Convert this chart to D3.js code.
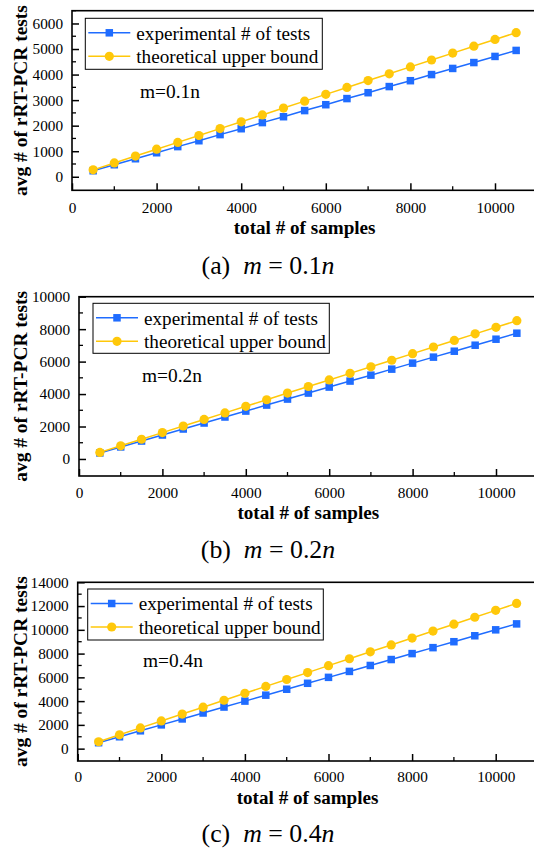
<!DOCTYPE html>
<html>
<head>
<meta charset="utf-8">
<script src="https://cdn.jsdelivr.net/npm/d3@7"></script>
<style>
  body { margin: 0; background: #fff; }
  svg { display: block; }
  text { font-family: "Liberation Serif", "Times New Roman", Times, serif; fill: #000; }
</style>
</head>
<body>
<script>
// total # of samples (n)
const samples = [500, 1000, 1500, 2000, 2500, 3000, 3500, 4000, 4500, 5000, 5500,
  6000, 6500, 7000, 7500, 8000, 8500, 9000, 9500, 10000, 10500];

// m = 0.1n
const expA = [235, 470, 705, 940, 1180, 1410, 1650, 1880, 2120, 2350, 2590,
  2820, 3060, 3290, 3530, 3760, 4000, 4240, 4470, 4710, 4945];
const theoA = [270, 540, 810, 1080, 1345, 1615, 1885, 2150, 2420, 2690, 2960,
  3225, 3495, 3765, 4030, 4300, 4570, 4840, 5110, 5375, 5640];

// m = 0.2n
const expB = [370, 740, 1105, 1475, 1845, 2215, 2585, 2950, 3320, 3690, 4060,
  4430, 4800, 5165, 5535, 5905, 6275, 6640, 7010, 7380, 7750];
const theoB = [405, 810, 1215, 1625, 2030, 2435, 2840, 3245, 3650, 4060, 4465,
  4870, 5275, 5680, 6085, 6490, 6900, 7305, 7710, 8115, 8520];

// m = 0.4n
const expC = [500, 1000, 1500, 2000, 2500, 3000, 3500, 4000, 4500, 5000, 5500,
  6000, 6500, 7000, 7500, 8000, 8500, 9000, 9500, 10000, 10500];
const theoC = [580, 1165, 1745, 2330, 2910, 3490, 4075, 4655, 5240, 5820, 6400,
  6985, 7565, 8150, 8730, 9310, 9895, 10475, 11060, 11640, 12225];

const xTicks = [0, 2000, 4000, 6000, 8000, 10000];
const seriesNames = ['experimental # of tests', 'theoretical upper bound'];
const blue = '#1f6cff';
const yellow = '#ffc80a';
const serif = '"Liberation Serif", "Times New Roman", Times, serif';

const panels = [
  { tag: 'a', ratio: '0.1', exp: expA, theo: theoA, yMin: -530, yMax: 6500, yMajor: 1000, yMinor: 500,
    left: 72, top: 10.7, bottom: 190.3, xMax: 11000, right: 537.3,
    legend: { x: 85.3, y: 18.3, w: 237, h: 51 }, note: { x: 140, y: 91 },
    xLabelY: 208, xTitleY: 227, captionY: 265 },
  { tag: 'b', ratio: '0.2', exp: expB, theo: theoB, yMin: -1050, yMax: 10000, yMajor: 2000, yMinor: 1000,
    left: 79, top: 296.7, bottom: 476, xMax: 11000, right: 537.7,
    legend: { x: 93, y: 303.3, w: 236.3, h: 50 }, note: { x: 142, y: 375 },
    xLabelY: 493, xTitleY: 512, captionY: 549 },
  { tag: 'c', ratio: '0.4', exp: expC, theo: theoC, yMin: -1040, yMax: 14000, yMajor: 2000, yMinor: 1000,
    left: 77.7, top: 582.3, bottom: 761, xMax: 11000, right: 537.5,
    legend: { x: 87.7, y: 589, w: 235.6, h: 51 }, note: { x: 143, y: 660 },
    xLabelY: 777, xTitleY: 797, captionY: 833 }
];

const svg = d3.select('body').append('svg')
  .attr('width', 534)
  .attr('height', 848);

// pick a font size so that the text comes out at the wanted width
function fitSize(text, weight, width) {
  const probe = svg.append('text')
    .attr('font-family', serif).attr('font-weight', weight)
    .attr('font-size', 20).text(text);
  const w = probe.node().getComputedTextLength();
  probe.remove();
  return 20 * width / w;
}

const sizes = {
  tick: fitSize('4000', 'normal', 30.5),
  legend: fitSize(seriesNames[0], 'normal', 174),
  xTitle: fitSize('total # of samples', 'bold', 142),
  yTitle: fitSize('avg # of rRT-PCR tests', 'bold', 191),
  note: fitSize('m=0.1n', 'normal', 60),
  caption: fitSize('(a)  m = 0.1n', 'normal', 128)
};

function drawSquare(g, x, y, s, color) {
  g.append('rect')
    .attr('x', x - s / 2).attr('y', y - s / 2)
    .attr('width', s).attr('height', s)
    .attr('fill', color);
}

function drawPanel(p) {
  const xScale = d3.scaleLinear().domain([0, p.xMax]).range([p.left, p.right]);
  const yScale = d3.scaleLinear().domain([p.yMin, p.yMax]).range([p.bottom, p.top]);
  const g = svg.append('g');

  // frame
  g.append('rect')
    .attr('x', p.left).attr('y', p.top)
    .attr('width', p.right - p.left).attr('height', p.bottom - p.top)
    .attr('fill', 'none').attr('stroke', '#000').attr('stroke-width', 1.6);

  // minor ticks (inward)
  const yMinorTicks = d3.range(0, p.yMax + 1, p.yMinor).filter((v) => v % p.yMajor !== 0);
  g.selectAll('.ym').data(yMinorTicks).enter().append('line')
    .attr('x1', p.left).attr('x2', p.left + 4)
    .attr('y1', (d) => yScale(d)).attr('y2', (d) => yScale(d))
    .attr('stroke', '#000').attr('stroke-width', 1.3);
  const xMinorTicks = d3.range(1000, p.xMax, 2000);
  g.selectAll('.xm').data(xMinorTicks).enter().append('line')
    .attr('x1', (d) => xScale(d)).attr('x2', (d) => xScale(d))
    .attr('y1', p.bottom).attr('y2', p.bottom - 4)
    .attr('stroke', '#000').attr('stroke-width', 1.3);

  // major axes
  const yAxis = d3.axisLeft(yScale)
    .tickValues(d3.range(0, p.yMax + 1, p.yMajor))
    .tickSize(-7).tickPadding(9).tickFormat(d3.format('d'));
  g.append('g')
    .attr('transform', `translate(${p.left},0)`)
    .call(yAxis)
    .attr('font-family', serif).attr('font-size', sizes.tick)
    .call((a) => a.select('.domain').remove())
    .call((a) => a.selectAll('.tick line').attr('stroke', '#000').attr('stroke-width', 1.5));

  const xAxis = d3.axisBottom(xScale)
    .tickValues(xTicks)
    .tickSize(-7).tickPadding(0).tickFormat(d3.format('d'));
  g.append('g')
    .attr('transform', `translate(0,${p.bottom})`)
    .call(xAxis)
    .attr('font-family', serif).attr('font-size', sizes.tick)
    .call((a) => a.select('.domain').remove())
    .call((a) => a.selectAll('.tick line').attr('stroke', '#000').attr('stroke-width', 1.5))
    .call((a) => a.selectAll('.tick text')
      .attr('y', p.xLabelY - p.bottom).attr('dy', '0.35em'));

  // axis titles
  g.append('text')
    .attr('x', (p.left + p.right) / 2).attr('y', p.xTitleY).attr('dy', '0.35em')
    .attr('text-anchor', 'middle')
    .attr('font-weight', 'bold').attr('font-size', sizes.xTitle)
    .text('total # of samples');
  g.append('text')
    .attr('transform', `translate(20,${(p.top + p.bottom) / 2}) rotate(-90)`)
    .attr('dy', '0.35em')
    .attr('text-anchor', 'middle')
    .attr('font-weight', 'bold').attr('font-size', sizes.yTitle)
    .text('avg # of rRT-PCR tests');

  // series
  const line = d3.line()
    .x((d) => xScale(d[0]))
    .y((d) => yScale(d[1]));
  const expPts = samples.map((n, i) => [n, p.exp[i]]);
  const theoPts = samples.map((n, i) => [n, p.theo[i]]);

  g.append('path').datum(expPts)
    .attr('d', line).attr('fill', 'none')
    .attr('stroke', blue).attr('stroke-width', 1.5);
  g.append('path').datum(theoPts)
    .attr('d', line).attr('fill', 'none')
    .attr('stroke', yellow).attr('stroke-width', 1.5);

  expPts.forEach((d) => drawSquare(g, xScale(d[0]), yScale(d[1]), 7.5, blue));
  g.selectAll('.dot').data(theoPts).enter().append('circle')
    .attr('cx', (d) => xScale(d[0])).attr('cy', (d) => yScale(d[1]))
    .attr('r', 4.6).attr('fill', yellow);

  // legend
  const lg = p.legend;
  g.append('rect')
    .attr('x', lg.x).attr('y', lg.y).attr('width', lg.w).attr('height', lg.h)
    .attr('fill', '#fff').attr('stroke', '#000').attr('stroke-width', 1);
  const rows = [
    { name: seriesNames[0], color: blue, marker: 'square' },
    { name: seriesNames[1], color: yellow, marker: 'circle' }
  ];
  rows.forEach((r, i) => {
    const ry = lg.y + 14.5 + i * 23.5;
    g.append('line')
      .attr('x1', lg.x + 3).attr('x2', lg.x + 45)
      .attr('y1', ry).attr('y2', ry)
      .attr('stroke', r.color).attr('stroke-width', 1.5);
    if (r.marker === 'square') {
      drawSquare(g, lg.x + 24, ry, 7.5, r.color);
    } else {
      g.append('circle').attr('cx', lg.x + 24).attr('cy', ry).attr('r', 4.6).attr('fill', r.color);
    }
    g.append('text')
      .attr('x', lg.x + 51).attr('y', ry).attr('dy', '0.35em')
      .attr('font-size', sizes.legend)
      .text(r.name);
  });

  // annotation
  g.append('text')
    .attr('x', p.note.x).attr('y', p.note.y).attr('dy', '0.35em')
    .attr('font-size', sizes.note)
    .text(`m=${p.ratio}n`);

  // caption
  const cap = g.append('text')
    .attr('x', 268).attr('y', p.captionY).attr('dy', '0.35em')
    .attr('text-anchor', 'middle')
    .attr('font-size', sizes.caption);
  cap.append('tspan').text(`(${p.tag})\u2002`);
  cap.append('tspan').attr('font-style', 'italic').text('m');
  cap.append('tspan').text(` = ${p.ratio}`);
  cap.append('tspan').attr('font-style', 'italic').text('n');
}

panels.forEach(drawPanel);
</script>
</body>
</html>
